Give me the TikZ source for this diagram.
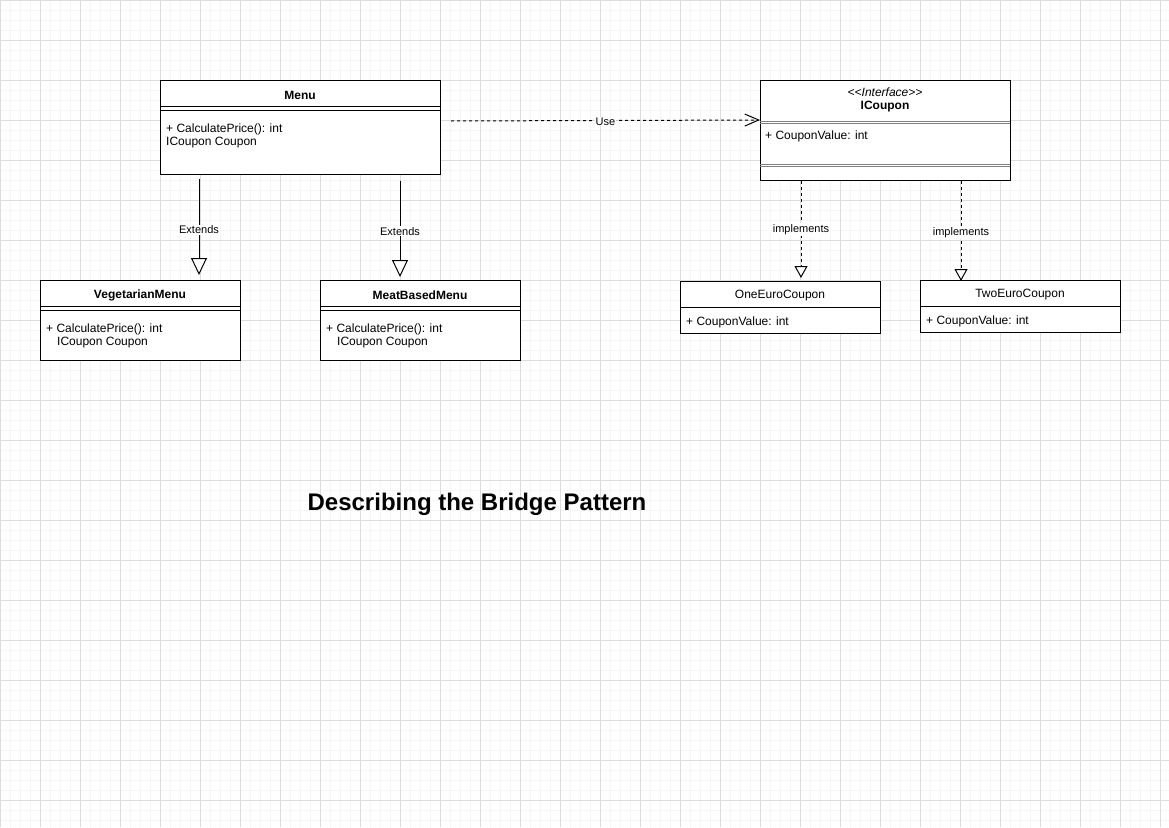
\documentclass[tikz,border=0pt]{standalone}
\usepackage{fontspec}
\setmainfont{Liberation Sans}
\usetikzlibrary{arrows.meta}
\definecolor{gridminor}{HTML}{F5F5F5}
\definecolor{gridmajor}{HTML}{DCDCDC}
\definecolor{sepgray}{HTML}{808080}
\tikzset{
  cls/.style={draw=black, line width=1pt, fill=white, inner sep=0pt, anchor=north west},
  ttl/.style={font=\fontsize{12}{14}\selectfont\bfseries, inner sep=0pt},
  ttlplain/.style={font=\fontsize{12}{14}\selectfont, inner sep=0pt},
  attr/.style={font=\fontsize{12}{14}\selectfont, inner sep=0pt, anchor=west},
  lbl/.style={font=\fontsize{11}{13}\selectfont, fill=white, inner sep=1pt},
  sep/.style={line width=1pt, black},
  extendsarrow/.style={line width=1pt, -{Triangle[length=17pt,width=16pt,fill=white]}},
  implarrow/.style={line width=1pt, dash pattern=on 3pt off 3pt, -{Triangle[length=12pt,width=13pt,fill=white]}},
  usearrow/.style={line width=1pt, dash pattern=on 3pt off 3pt, -{Straight Barb[length=14pt,width=12pt]}},
}
\begin{document}
\begin{tikzpicture}[x=1pt,y=-1pt]
\useasboundingbox (0,0) rectangle (1169,827);
\fill[white] (0,0) rectangle (1169,827);
% grid
\foreach \x in {0,10,...,1160} \draw[gridminor, line width=1pt] (\x+0.5,0) -- (\x+0.5,827);
\foreach \y in {0,10,...,820} \draw[gridminor, line width=1pt] (0,\y+0.5) -- (1169,\y+0.5);
\foreach \x in {0,40,...,1160} \draw[gridmajor, line width=1pt] (\x+0.5,0) -- (\x+0.5,827);
\foreach \y in {0,40,...,800} \draw[gridmajor, line width=1pt] (0,\y+0.5) -- (1169,\y+0.5);

% Menu
\node[cls, minimum width=280pt, minimum height=94pt] (menu) at (160,80) {};
\draw[sep] (160,106) -- (440,106);
\draw[sep] (160,110) -- (440,110);
\node[ttl] (menut) at (300,95) {Menu};
\node[attr] (menua1) at (166,129) {+ CalculatePrice(): int};
\node[attr] (menua2) at (166,143) {ICoupon Coupon};

% ICoupon
\node[cls, minimum width=250pt, minimum height=100pt] (icoupon) at (760,80) {};
\draw[sepgray, line width=1pt] (760,121) -- (1010,121);
\draw[sepgray, line width=1pt] (760,123) -- (1010,123);
\draw[sepgray, line width=1pt] (760,164.5) -- (1010,164.5);
\draw[sepgray, line width=1pt] (760,166.5) -- (1010,166.5);
\node[ttlplain, font=\fontsize{12}{14}\selectfont\itshape] (icst) at (885,92) {{<}{<}Interface{>}{>}};
\node[ttl] (ict) at (885,106.5) {ICoupon};
\node[attr] (ica1) at (765,136) {+ CouponValue: int};

% VegetarianMenu
\node[cls, minimum width=200pt, minimum height=80pt] (veg) at (40,280) {};
\draw[sep] (40,306) -- (240,306);
\draw[sep] (40,310) -- (240,310);
\node[ttl] (vegt) at (140,295) {VegetarianMenu};
\node[attr] (vega1) at (46,329) {+ CalculatePrice(): int};
\node[attr] (vega2) at (57,343) {ICoupon Coupon};

% MeatBasedMenu
\node[cls, minimum width=200pt, minimum height=80pt] (meat) at (320,280) {};
\draw[sep] (320,306) -- (520,306);
\draw[sep] (320,310) -- (520,310);
\node[ttl] (meatt) at (420,295) {MeatBasedMenu};
\node[attr] (meata1) at (326,329) {+ CalculatePrice(): int};
\node[attr] (meata2) at (337,343) {ICoupon Coupon};

% OneEuroCoupon
\node[cls, minimum width=200pt, minimum height=52pt] (one) at (680,281) {};
\draw[sep] (680,307) -- (880,307);
\node[ttlplain] (onet) at (780,295.5) {OneEuroCoupon};
\node[attr] (onea1) at (686,322) {+ CouponValue: int};

% TwoEuroCoupon
\node[cls, minimum width=200pt, minimum height=52pt] (two) at (920,280) {};
\draw[sep] (920,306) -- (1120,306);
\node[ttlplain] (twot) at (1020,294.5) {TwoEuroCoupon};
\node[attr] (twoa1) at (926,321) {+ CouponValue: int};

% connectors
\draw[extendsarrow] ([xshift=39pt,yshift=-4pt]menu.south west) -- ([xshift=159pt,yshift=5pt]veg.north west)
  node[lbl, pos=0.53] (ext1) {Extends};
\draw[extendsarrow] ([xshift=240pt,yshift=-6pt]menu.south west) -- ([xshift=80pt,yshift=3pt]meat.north west)
  node[lbl, pos=0.525] (ext2) {Extends};
\draw[usearrow] ([xshift=10pt,yshift=-41pt]menu.north east) -- ([yshift=-40pt]icoupon.north west)
  node[lbl, pos=0.5, yshift=-1pt] (use) {Use};
\draw[implarrow] ([xshift=41pt]icoupon.south west) -- ([xshift=121pt,yshift=3pt]one.north west)
  node[lbl, pos=0.5] (impl1) {implements};
\draw[implarrow] ([xshift=201pt]icoupon.south west) -- ([xshift=41pt,yshift=-1pt]two.north west)
  node[lbl, pos=0.515] (impl2) {implements};

% title
\node[font=\fontsize{24}{28}\selectfont\bfseries, inner sep=0pt] (title) at (477,504) {Describing the Bridge Pattern};
\end{tikzpicture}
\end{document}
